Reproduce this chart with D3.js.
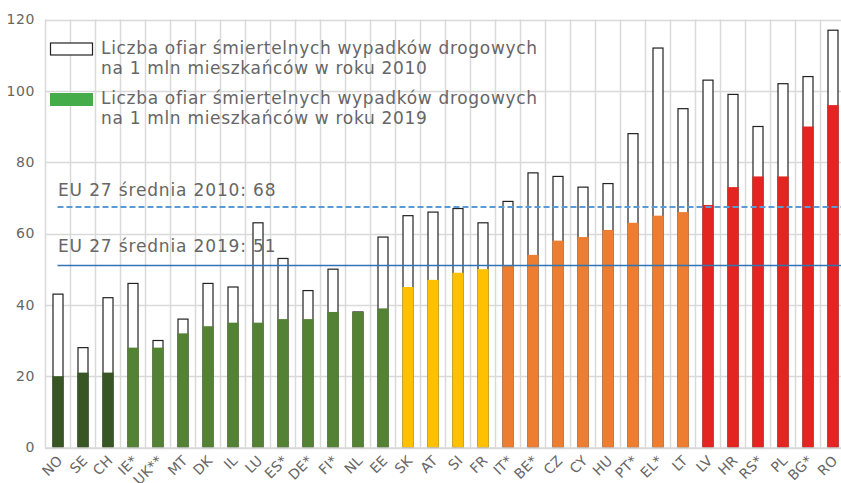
<!DOCTYPE html>
<html>
<head>
<meta charset="utf-8">
<script src="https://cdn.jsdelivr.net/npm/d3@7"></script>
<style>
  html, body { margin: 0; padding: 0; background: #fff; }
  svg { display: block; font-family: "DejaVu Sans", Verdana, sans-serif; }
</style>
</head>
<body>
<svg id="chart" width="841" height="483"></svg>
<script>
const categories = ["NO","SE","CH","IE*","UK**","MT","DK","IL","LU","ES*","DE*","FI*","NL","EE","SK","AT","SI","FR","IT*","BE*","CZ","CY","HU","PT*","EL*","LT","LV","HR","RS*","PL","BG*","RO"];
const values2010 = [43,28,42,46,30,36,46,45,63,53,44,50,38,59,65,66,67,63,69,77,76,73,74,88,112,95,103,99,90,102,104,117];
const values2019 = [20,21,21,28,28,32,34,35,35,36,36,38,38,39,45,47,49,50,51,54,58,59,61,63,65,66,68,73,76,76,90,96];
const groups = ["dark","dark","dark","green","green","green","green","green","green","green","green","green","green","green","yellow","yellow","yellow","yellow","orange","orange","orange","orange","orange","orange","orange","orange","red","red","red","red","red","red"];
const groupColors = {dark:"#375623", green:"#548235", yellow:"#FFC000", orange:"#ED7D31", red:"#E42421"};
const yTicks = [0,20,40,60,80,100,120];
const avg2010 = 67.4, avg2019 = 51;
const legendLabels = [
  ["Liczba ofiar śmiertelnych wypadków drogowych", "na 1 mln mieszkańców w roku 2010"],
  ["Liczba ofiar śmiertelnych wypadków drogowych", "na 1 mln mieszkańców w roku 2019"]
];
const avgLabels = ["EU 27 średnia 2010: 68", "EU 27 średnia 2019: 51"];

const svg = d3.select("#chart");
const mLeft = 45, mTop = 19.5, mBottom = 447.5;
const x = d3.scaleBand().domain(categories).range([mLeft, mLeft + 25 * categories.length]).padding(0);
const y = d3.scaleLinear().domain([0, 120]).range([mBottom, mTop]);
const barW = 10;
const textColor = "#666666";
const gridColor = "#d9d9d9";

// horizontal gridlines
svg.append("g").selectAll("line").data(yTicks).join("line")
  .attr("x1", mLeft).attr("x2", 841)
  .attr("y1", d => Math.round(y(d)) + 0.5).attr("y2", d => Math.round(y(d)) + 0.5)
  .attr("stroke", gridColor).attr("stroke-width", 1.5);

// vertical gridlines at band boundaries
svg.append("g").selectAll("line").data(categories).join("line")
  .attr("x1", d => x(d) + 0.5).attr("x2", d => x(d) + 0.5)
  .attr("y1", y(120)).attr("y2", mBottom)
  .attr("stroke", gridColor).attr("stroke-width", 1.5);

// y-axis labels
const yAxis = d3.axisLeft(y).tickValues(yTicks).tickSize(0).tickPadding(10);
const ya = svg.append("g").attr("transform", `translate(${mLeft},0)`).call(yAxis);
ya.select(".domain").remove();
ya.selectAll("text").attr("fill", textColor).style("font-size", "14px")
  .style("letter-spacing", "0.6px")
  .style("font-family", '"DejaVu Sans", Verdana, sans-serif');

// 2010 bars (outline)
svg.append("g").selectAll("rect").data(categories).join("rect")
  .attr("x", d => x(d) + x.bandwidth() / 2 - barW / 2 + 0.5)
  .attr("y", (d, i) => y(values2010[i]))
  .attr("width", barW)
  .attr("height", (d, i) => mBottom - y(values2010[i]))
  .attr("fill", "#fff").attr("stroke", "#222").attr("stroke-width", 1.2);

// 2019 bars (filled)
svg.append("g").selectAll("rect").data(categories).join("rect")
  .attr("x", d => x(d) + x.bandwidth() / 2 - barW / 2 - 0.1)
  .attr("y", (d, i) => y(values2019[i]))
  .attr("width", barW + 1.2)
  .attr("height", (d, i) => mBottom - y(values2019[i]))
  .attr("fill", (d, i) => groupColors[groups[i]]);

// bottom axis line
svg.append("line").attr("x1", mLeft).attr("x2", 841)
  .attr("y1", mBottom + 0.5).attr("y2", mBottom + 0.5)
  .attr("stroke", gridColor).attr("stroke-width", 1.5);

// x labels
const xAxis = d3.axisBottom(x).tickSize(0).tickPadding(0);
const xa = svg.append("g").attr("transform", `translate(0,${mBottom})`).call(xAxis);
xa.select(".domain").remove();
xa.selectAll("text")
  .attr("fill", textColor).style("font-size", "14px")
  .style("letter-spacing", "0.2px")
  .style("font-family", '"DejaVu Sans", Verdana, sans-serif')
  .attr("text-anchor", "end")
  .attr("dy", null).attr("y", 0)
  .attr("transform", "translate(6,14) rotate(-45)");

// average lines
const lineStart = x(categories[0]) + x.bandwidth() / 2;
svg.append("line").attr("x1", lineStart).attr("x2", 841)
  .attr("y1", y(avg2010)).attr("y2", y(avg2010))
  .attr("stroke", "#5B9BD5").attr("stroke-width", 2).attr("stroke-dasharray", "6,3");
svg.append("line").attr("x1", lineStart).attr("x2", 841)
  .attr("y1", y(avg2019)).attr("y2", y(avg2019))
  .attr("stroke", "#2E75B6").attr("stroke-width", 1.5);

svg.append("text").attr("x", 58).attr("y", y(avg2010) - 11)
  .attr("fill", textColor).style("font-size", "17px").style("letter-spacing", "0.85px").text(avgLabels[0]);
svg.append("text").attr("x", 58).attr("y", y(avg2019) - 14)
  .attr("fill", textColor).style("font-size", "17px").style("letter-spacing", "0.85px").text(avgLabels[1]);

// legend
const leg = svg.append("g");
leg.append("rect").attr("x", 50.5).attr("y", 43).attr("width", 42).attr("height", 12)
  .attr("fill", "#fff").attr("stroke", "#222").attr("stroke-width", 1.2);
leg.append("rect").attr("x", 50).attr("y", 93).attr("width", 43).attr("height", 13)
  .attr("fill", "#45AC4A");
legendLabels.forEach((lines, k) => {
  const t = leg.append("text").attr("x", 101).attr("y", 54 + k * 50)
    .attr("fill", textColor).style("font-size", "17px").style("letter-spacing", "0.68px");
  lines.forEach((l, j) => t.append("tspan").attr("x", 101).attr("dy", j === 0 ? 0 : 20).text(l));
});
</script>
</body>
</html>
